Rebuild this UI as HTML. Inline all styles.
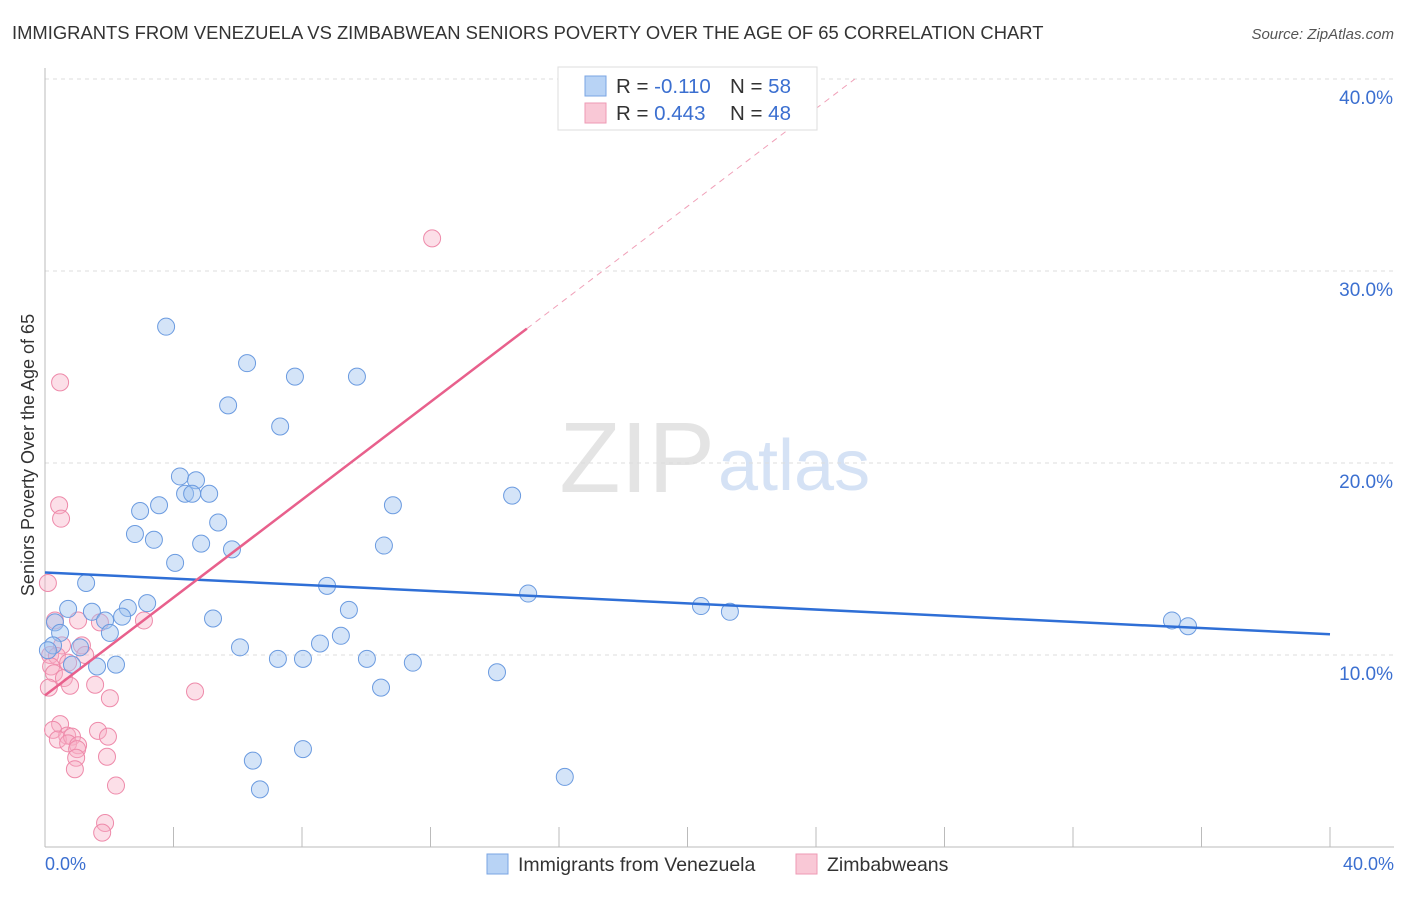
<!DOCTYPE html>
<html><head><meta charset="utf-8"><style>
body{margin:0;background:#fff;font-family:"Liberation Sans",sans-serif}
svg text{font-family:"Liberation Sans",sans-serif}
</style></head><body>
<svg id="chart" width="1406" height="892" viewBox="0 0 1406 892">
<text x="12" y="39" font-size="18.4" fill="#333">IMMIGRANTS FROM VENEZUELA VS ZIMBABWEAN SENIORS POVERTY OVER THE AGE OF 65 CORRELATION CHART</text>
<text x="1394" y="39" font-size="15" fill="#555" font-style="italic" text-anchor="end">Source: ZipAtlas.com</text>
<text x="715" y="492" font-size="100" fill="#e4e4e4" font-family="Liberation Serif" text-anchor="end">ZIP</text>
<text x="718" y="490" font-size="72" fill="#d5e2f5">atlas</text>
<g id="grid"></g><g id="axes"></g><g id="marks"></g>
<text transform="translate(34,455) rotate(-90)" font-size="18" fill="#333" text-anchor="middle">Seniors Poverty Over the Age of 65</text>
<text x="45" y="870" font-size="18" fill="#3b6fd0">0.0%</text>
<text x="1394" y="870" font-size="18" fill="#3b6fd0" text-anchor="end">40.0%</text>
<g>
<rect x="558" y="67" width="259" height="63" fill="#fff" stroke="#ddd"/>
<rect x="585" y="76" width="21" height="20" fill="#b8d3f5" stroke="#7aa5e3"/>
<rect x="585" y="103" width="21" height="20" fill="#f9c8d6" stroke="#ee9ab4"/>
<text x="616" y="93" font-size="20.5" fill="#333">R = <tspan fill="#3b6fd0">-0.110</tspan></text>
<text x="730" y="93" font-size="20.5" fill="#333">N = <tspan fill="#3b6fd0">58</tspan></text>
<text x="616" y="120" font-size="20.5" fill="#333">R = <tspan fill="#3b6fd0"> 0.443</tspan></text>
<text x="730" y="120" font-size="20.5" fill="#333">N = <tspan fill="#3b6fd0">48</tspan></text>
</g>
<g>
<rect x="487" y="854" width="21" height="20" fill="#b8d3f5" stroke="#7aa5e3"/>
<text x="518" y="871" font-size="19.5" fill="#333">Immigrants from Venezuela</text>
<rect x="796" y="854" width="21" height="20" fill="#f9c8d6" stroke="#ee9ab4"/>
<text x="827" y="871" font-size="19.5" fill="#333">Zimbabweans</text>
</g>
</svg>
<script>
const yTicks=[10,20,30,40];
const yTickLabels=["10.0%","20.0%","30.0%","40.0%"];
const xTicks=[0,4,8,12,16,20,24,28,32,36,40];
const blueX=[3.77,6.29,7.78,9.71,5.70,7.32,4.20,4.70,4.36,4.58,5.11,14.54,3.55,10.83,2.96,5.39,2.80,3.39,4.86,10.55,5.82,4.05,1.28,8.78,15.04,3.18,2.58,0.72,1.46,2.40,20.42,21.32,9.46,5.23,35.08,35.58,0.31,1.87,0.47,2.02,9.21,8.56,0.25,1.09,6.07,0.09,7.25,8.03,10.02,2.21,1.62,11.45,0.84,14.07,10.46,8.03,6.47,16.18,6.69];
const blueY=[27.1,25.2,24.5,24.5,23.0,21.9,19.3,19.1,18.4,18.4,18.4,18.3,17.8,17.8,17.5,16.9,16.3,16.0,15.8,15.7,15.5,14.8,13.75,13.6,13.2,12.7,12.45,12.4,12.25,12.0,12.55,12.25,12.35,11.9,11.8,11.5,11.7,11.8,11.15,11.15,11.0,10.6,10.5,10.4,10.4,10.25,9.8,9.8,9.8,9.5,9.4,9.6,9.5,9.1,8.3,5.1,4.5,3.65,3.0];
const pinkX=[12.05,0.47,0.44,0.50,0.09,0.31,1.03,1.71,3.08,0.53,1.15,0.16,0.37,0.72,0.19,0.28,0.59,0.78,1.56,0.12,4.67,2.02,0.47,0.25,1.65,0.69,0.40,0.84,1.96,0.72,1.03,1.0,1.93,0.97,0.93,2.21,1.87,1.78,1.25];
const pinkY=[31.7,24.2,17.8,17.1,13.75,11.8,11.8,11.7,11.8,10.5,10.5,10.0,9.95,9.6,9.4,9.05,8.8,8.4,8.45,8.3,8.1,7.75,6.4,6.1,6.05,5.8,5.6,5.75,5.75,5.4,5.3,5.1,4.7,4.65,4.05,3.2,1.25,0.75,10.0];
const blueTrend=[14.3,11.08]; // y at x=0, x=40
const pinkTrend=[7.9,27.0]; // y at x=0, x=15
const pinkSolidEnd=15;
const NS="http://www.w3.org/2000/svg";
const X=v=>45+v*(1285/40), Y=v=>847-v*19.2;
function mk(t,a,p){const e=document.createElementNS(NS,t);for(const k in a)e.setAttribute(k,a[k]);p.appendChild(e);return e;}
const grid=document.getElementById('grid'),axes=document.getElementById('axes'),marks=document.getElementById('marks');
yTicks.forEach((t,i)=>{
 const l=mk('line',{x1:45,x2:1394,y1:Y(t),y2:Y(t),stroke:'#ddd','stroke-dasharray':'4,4'},grid);
 
 
 const tx=mk('text',{x:1393,y:Y(t)+25,'font-size':19,fill:'#3b6fd0','text-anchor':'end'},grid);
 tx.textContent=yTickLabels[i];
 
 
});
const ax=mk('line',{x1:45,x2:45,y1:68,y2:847,stroke:'#bbb'},axes);


const bx=mk('line',{x1:45,x2:1394,y1:847,y2:847,stroke:'#bbb'},axes);


xTicks.forEach(t=>{
 const l=mk('line',{x1:X(t),x2:X(t),y1:827,y2:847,stroke:'#bbb'},axes);
 
 
});
pinkX.forEach((x,i)=>{
 const c=mk('circle',{cx:X(x),cy:Y(pinkY[i]),r:8.5,fill:'rgba(248,175,198,0.4)',stroke:'#ee8aaa','stroke-width':1},marks);
 
 
});
blueX.forEach((x,i)=>{
 const c=mk('circle',{cx:X(x),cy:Y(blueY[i]),r:8.5,fill:'rgba(160,196,240,0.45)',stroke:'#6b9be0','stroke-width':1},marks);
 
 
});
const bl=mk('line',{x1:X(0),y1:Y(blueTrend[0]),x2:X(40),y2:Y(blueTrend[1]),stroke:'#2f6fd6','stroke-width':2.5},marks);


const slope=(pinkTrend[1]-pinkTrend[0])/pinkSolidEnd;
const xTop=(40-pinkTrend[0])/slope;
const pd=mk('line',{x1:X(pinkSolidEnd),y1:Y(pinkTrend[1]),x2:X(xTop),y2:Y(40),stroke:'#f0a0b8','stroke-width':1,'stroke-dasharray':'6,5'},marks);


const pl=mk('line',{x1:X(0),y1:Y(pinkTrend[0]),x2:X(pinkSolidEnd),y2:Y(pinkTrend[1]),stroke:'#e8608c','stroke-width':2.5},marks);


</script>
</body></html>
